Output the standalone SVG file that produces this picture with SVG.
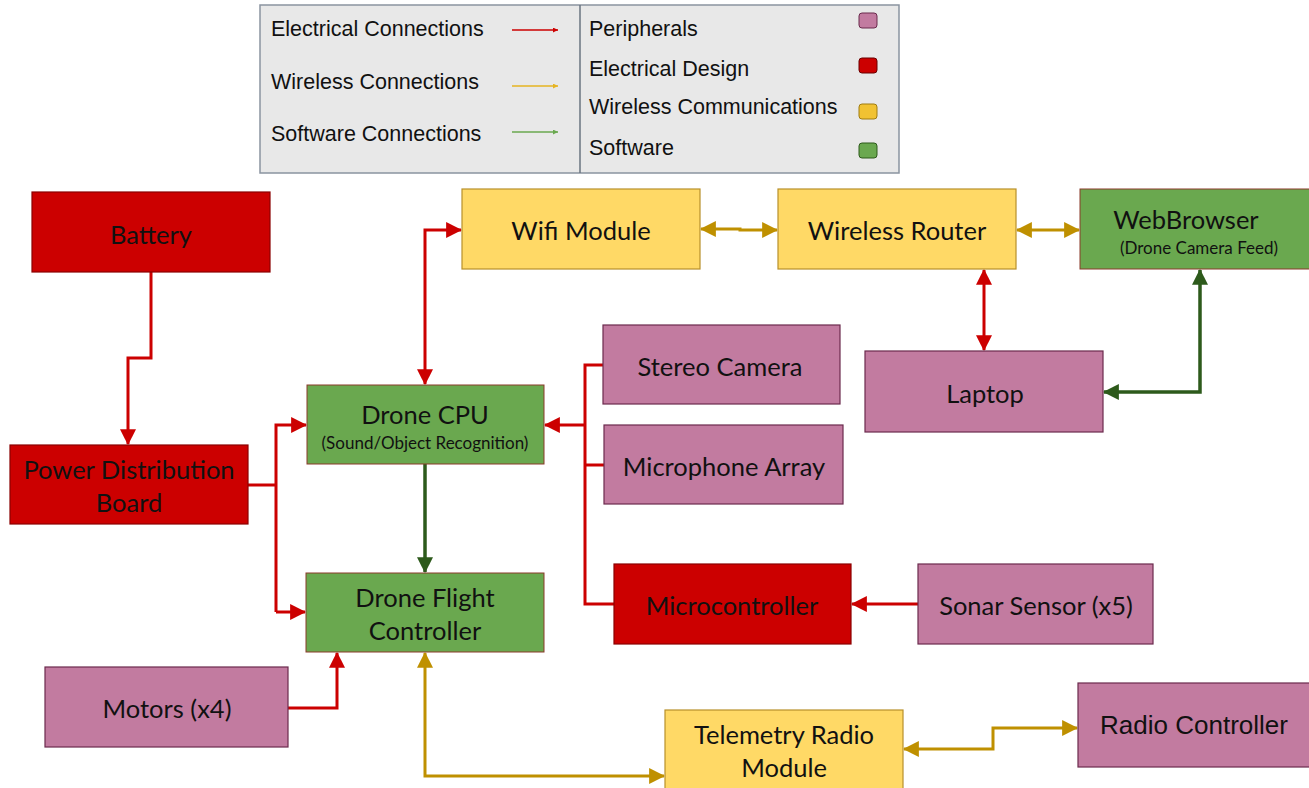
<svg xmlns="http://www.w3.org/2000/svg" width="1309" height="788" viewBox="0 0 1309 788">
<style>
.n{font-family:Lato,"Noto Sans",sans-serif;font-size:25.5px;fill:#111;text-anchor:middle}
.s{font-family:Lato,"Noto Sans",sans-serif;font-size:17px;fill:#111;text-anchor:middle}
.lg{font-family:"Liberation Sans",Arial,sans-serif;font-size:21.5px;fill:#111}
.red{fill:#cc0000;stroke:#8a0000;stroke-width:1.2}
.pur{fill:#c27ba0;stroke:#6b2a4d;stroke-width:1.2}
.yel{fill:#ffd966;stroke:#b8902a;stroke-width:1.2}
.grn{fill:#6aa84f;stroke:#8a3a2a;stroke-width:1}
.ce{fill:none;stroke:#cc0000;stroke-width:3}
.cw{fill:none;stroke:#bf9000;stroke-width:3}
.cs{fill:none;stroke:#2d5a1b;stroke-width:3.5}
</style>
<defs>
<marker id="ar" viewBox="0 0 14 14" refX="13" refY="7" markerWidth="16" markerHeight="16" markerUnits="userSpaceOnUse" orient="auto-start-reverse"><path d="M0,0 L14,7 L0,14 z" fill="#cc0000"/></marker>
<marker id="ay" viewBox="0 0 14 14" refX="13" refY="7" markerWidth="16" markerHeight="16" markerUnits="userSpaceOnUse" orient="auto-start-reverse"><path d="M0,0 L14,7 L0,14 z" fill="#bf9000"/></marker>
<marker id="ag" viewBox="0 0 14 14" refX="13" refY="7" markerWidth="16" markerHeight="16" markerUnits="userSpaceOnUse" orient="auto-start-reverse"><path d="M0,0 L14,7 L0,14 z" fill="#2d5a1b"/></marker>
<marker id="lr" viewBox="0 0 6 6" refX="6" refY="3" markerWidth="5" markerHeight="5" markerUnits="userSpaceOnUse" orient="auto"><path d="M0,0 L6,3 L0,6 z" fill="#cc0000"/></marker>
<marker id="ly" viewBox="0 0 6 6" refX="6" refY="3" markerWidth="5" markerHeight="5" markerUnits="userSpaceOnUse" orient="auto"><path d="M0,0 L6,3 L0,6 z" fill="#e6b422"/></marker>
<marker id="lgm" viewBox="0 0 6 6" refX="6" refY="3" markerWidth="5" markerHeight="5" markerUnits="userSpaceOnUse" orient="auto"><path d="M0,0 L6,3 L0,6 z" fill="#6aa84f"/></marker>
</defs>
<rect width="1309" height="788" fill="#fff"/>

<g id="legend">
<rect x="260" y="5" width="639" height="168" fill="#e8e8e8" stroke="#8a94a0" stroke-width="1.5"/>
<line x1="580" y1="5" x2="580" y2="173" stroke="#6a7480" stroke-width="1.5"/>
<text class="lg" x="271" y="36">Electrical Connections</text>
<text class="lg" x="271" y="89">Wireless Connections</text>
<text class="lg" x="271" y="141">Software Connections</text>
<line x1="512" y1="30" x2="558" y2="30" stroke="#cc0000" stroke-width="1.3" marker-end="url(#lr)"/>
<line x1="512" y1="86" x2="558" y2="86" stroke="#e6b422" stroke-width="1.3" marker-end="url(#ly)"/>
<line x1="512" y1="132" x2="558" y2="132" stroke="#6aa84f" stroke-width="1.3" marker-end="url(#lgm)"/>
<text class="lg" x="589" y="36">Peripherals</text>
<text class="lg" x="589" y="76">Electrical Design</text>
<text class="lg" x="589" y="114">Wireless Communications</text>
<text class="lg" x="589" y="155">Software</text>
<rect x="859" y="13" width="18" height="15" rx="3" fill="#c27ba0" stroke="#6b2a4d"/>
<rect x="859" y="58" width="18" height="15" rx="3" fill="#cc0000" stroke="#6b0000"/>
<rect x="859" y="104" width="18" height="15" rx="3" fill="#f1c232" stroke="#a07c10"/>
<rect x="859" y="143" width="18" height="15" rx="3" fill="#6aa84f" stroke="#2d5a1b"/>
</g>

<g id="connectors">
<path class="ce" d="M151,272 V358 H128 V444" marker-end="url(#ar)"/>
<path class="ce" d="M248,485 H276"/>
<path class="ce" d="M276,612 V425 H306" marker-end="url(#ar)"/>
<path class="ce" d="M276,612 H305" marker-end="url(#ar)"/>
<path class="ce" d="M288,708 H337 V653" marker-end="url(#ar)"/>
<path class="ce" d="M425,384 V230 H461" marker-start="url(#ar)" marker-end="url(#ar)"/>
<path class="ce" d="M603,365 H585 V604 H614"/>
<path class="ce" d="M604,465 H585"/>
<path class="ce" d="M585,425 H545" marker-end="url(#ar)"/>
<path class="ce" d="M918,604 H852" marker-end="url(#ar)"/>
<path class="ce" d="M984,270 V350" marker-start="url(#ar)" marker-end="url(#ar)"/>
<path class="cs" d="M425,464 V572" marker-end="url(#ag)"/>
<path class="cs" d="M1104,392 H1200 V270" marker-start="url(#ag)" marker-end="url(#ag)"/>
<path class="cw" d="M701,229 H740 V230 H777" marker-start="url(#ay)" marker-end="url(#ay)"/>
<path class="cw" d="M1017,230 H1079" marker-start="url(#ay)" marker-end="url(#ay)"/>
<path class="cw" d="M425,653 V776 H664" marker-start="url(#ay)" marker-end="url(#ay)"/>
<path class="cw" d="M904,749 H993 V728 H1077" marker-start="url(#ay)" marker-end="url(#ay)"/>
</g>

<g id="battery"><rect class="red" x="32" y="192" width="238" height="80"/><text class="n" x="151" y="244">Battery</text></g>
<g id="pdb"><rect class="red" x="10" y="445" width="238" height="79"/><text class="n" x="129" y="479">Power Distribution</text><text class="n" x="129" y="512">Board</text></g>
<g id="motors"><rect class="pur" x="45" y="667" width="243" height="80"/><text class="n" x="167" y="718">Motors (x4)</text></g>
<g id="cpu"><rect class="grn" x="307" y="385" width="237" height="79"/><text class="n" x="425" y="424">Drone CPU</text><text class="s" x="425" y="449">(Sound/Object Recognition)</text></g>
<g id="fc"><rect class="grn" x="306" y="573" width="238" height="79"/><text class="n" x="425" y="607">Drone Flight</text><text class="n" x="425" y="640">Controller</text></g>
<g id="wifi"><rect class="yel" x="462" y="189" width="238" height="80"/><text class="n" x="581" y="240">Wifi Module</text></g>
<g id="router"><rect class="yel" x="778" y="189" width="238" height="80"/><text class="n" x="897" y="240">Wireless Router</text></g>
<g id="browser"><rect class="grn" x="1080" y="189" width="232" height="80" stroke="#38761d"/><text class="n" x="1186" y="229">WebBrowser</text><text class="s" x="1199" y="254">(Drone Camera Feed)</text></g>
<g id="stereo"><rect class="pur" x="603" y="325" width="237" height="79"/><text class="n" x="720" y="376">Stereo Camera</text></g>
<g id="mic"><rect class="pur" x="604" y="425" width="239" height="79"/><text class="n" x="724" y="476">Microphone Array</text></g>
<g id="laptop"><rect class="pur" x="865" y="351" width="238" height="81"/><text class="n" x="985" y="403">Laptop</text></g>
<g id="mcu"><rect class="red" x="614" y="564" width="237" height="80"/><text class="n" x="732" y="615">Microcontroller</text></g>
<g id="sonar"><rect class="pur" x="918" y="564" width="235" height="80"/><text class="n" x="1036" y="615">Sonar Sensor (x5)</text></g>
<g id="telemetry"><rect class="yel" x="665" y="710" width="238" height="82"/><text class="n" x="784" y="744">Telemetry Radio</text><text class="n" x="784" y="777">Module</text></g>
<g id="rc"><rect class="pur" x="1078" y="683" width="235" height="84" stroke="#1e3a3a" stroke-width="1.5"/><text x="1194" y="734" text-anchor="middle" font-family="'Liberation Sans',Arial,sans-serif" font-size="26" fill="#111">Radio Controller</text></g>
</svg>
